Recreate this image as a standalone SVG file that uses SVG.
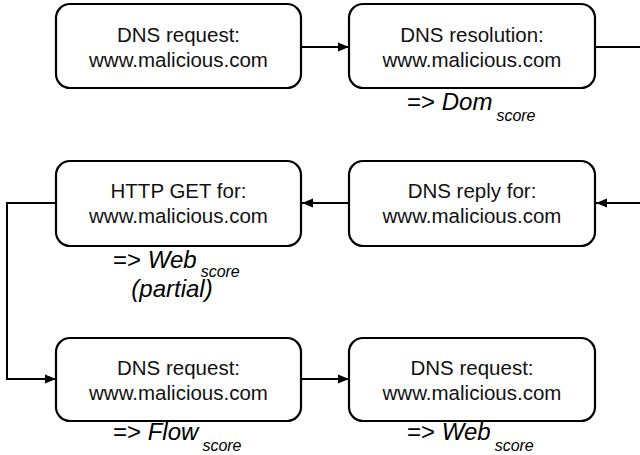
<svg xmlns="http://www.w3.org/2000/svg" width="640" height="455" viewBox="0 0 640 455">
<defs>
<marker id="arr" markerUnits="userSpaceOnUse" markerWidth="12" markerHeight="10" refX="11" refY="5" orient="auto">
<path d="M0,0.5 L11,5 L0,9.5 Z" fill="#000"/>
</marker>
<style>
.box{fill:#fff;stroke:#000;stroke-width:2.2}
.lbl{font-family:"Liberation Sans",Arial,sans-serif;font-size:20.5px;fill:#111;text-anchor:middle}
.sc{font-family:"Liberation Sans",Arial,sans-serif;font-size:24px;fill:#000}
.it{font-style:italic}
.sub{font-style:italic;font-size:16px}
.conn{fill:none;stroke:#000;stroke-width:2}
</style>
</defs>
<g id="connectors">
<line class="conn" x1="301" y1="47" x2="349" y2="47" marker-end="url(#arr)"/>
<line class="conn" x1="595" y1="47" x2="640" y2="47"/>
<line class="conn" x1="640" y1="203" x2="596" y2="203" marker-end="url(#arr)"/>
<line class="conn" x1="349" y1="203" x2="302" y2="203" marker-end="url(#arr)"/>
<polyline class="conn" points="56,203 7,203 7,379 56,379" marker-end="url(#arr)"/>
<line class="conn" x1="301" y1="379" x2="349" y2="379" marker-end="url(#arr)"/>
</g>
<g id="n1">
<rect class="box" x="56" y="4" width="245" height="84" rx="14"/>
<text class="lbl" x="178.5" y="42">DNS request:</text>
<text class="lbl" x="178.5" y="67">www.malicious.com</text>
</g>
<g id="n2">
<rect class="box" x="349" y="4" width="246" height="84" rx="14"/>
<text class="lbl" x="472" y="42">DNS resolution:</text>
<text class="lbl" x="472" y="67">www.malicious.com</text>
<text class="sc" x="407" y="110">=&gt; <tspan class="it">Dom</tspan><tspan class="sub" dx="4" dy="11">score</tspan></text>
</g>
<g id="n3">
<rect class="box" x="56" y="161" width="245" height="85" rx="14"/>
<text class="lbl" x="178.5" y="198">HTTP GET for:</text>
<text class="lbl" x="178.5" y="223">www.malicious.com</text>
<text class="sc" x="113" y="268">=&gt; <tspan class="it">Web</tspan><tspan class="sub" dx="4" dy="9">score</tspan></text>
<text class="sc it" x="172" y="297" text-anchor="middle">(partial)</text>
</g>
<g id="n4">
<rect class="box" x="349" y="161" width="246" height="85" rx="14"/>
<text class="lbl" x="472" y="198">DNS reply for:</text>
<text class="lbl" x="472" y="223">www.malicious.com</text>
</g>
<g id="n5">
<rect class="box" x="56" y="338" width="245" height="83" rx="14"/>
<text class="lbl" x="178.5" y="375">DNS request:</text>
<text class="lbl" x="178.5" y="400">www.malicious.com</text>
<text class="sc" x="113" y="440">=&gt; <tspan class="it">Flow</tspan><tspan class="sub" dx="4" dy="11">score</tspan></text>
</g>
<g id="n6">
<rect class="box" x="349" y="338" width="246" height="83" rx="14"/>
<text class="lbl" x="472" y="375">DNS request:</text>
<text class="lbl" x="472" y="400">www.malicious.com</text>
<text class="sc" x="407" y="440">=&gt; <tspan class="it">Web</tspan><tspan class="sub" dx="4" dy="11">score</tspan></text>
</g>
</svg>
